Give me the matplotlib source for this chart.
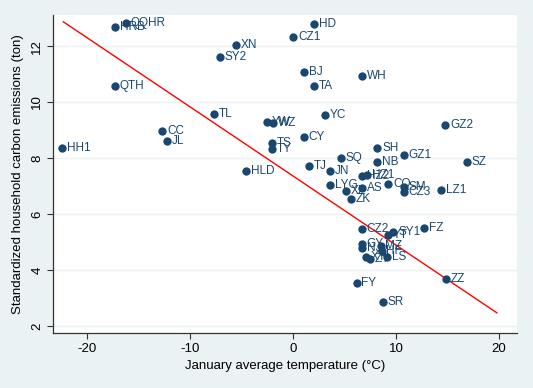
import matplotlib
matplotlib.use("Agg")
import matplotlib.pyplot as plt
import numpy as np

plt.rcParams['font.family'] = ['Liberation Sans', 'DejaVu Sans']
plt.rcParams['axes.unicode_minus'] = False

labels = ["HRB", "QQHR", "XN", "SY2", "QTH", "TL", "HD", "CZ1", "BJ", "WH", "TA",
          "YC", "GZ2", "HH1", "CC", "JL", "YW", "WZ", "TS", "TY", "HLD", "CY", "SH",
          "GZ1", "SZ", "SQ", "NB", "TJ", "JN", "HZ2", "HZ1", "LYG", "AS", "XZ", "ZK",
          "CQ", "SM", "CZ3", "LZ1", "CZ2", "SY1", "YT", "FZ", "GY", "NJ", "MZ", "HF",
          "LS", "XY", "ZY", "FY", "SR", "ZZ"]
temp = [-17.3, -16.2, -5.56, -7.09, -17.3, -7.64, 2.07, 0.03, 1.07, 6.67, 2.07,
        3.1, 14.8, -22.4, -12.7, -12.2, -2.55, -1.97, -2.07, -2.07, -4.56, 1.07, 8.19,
        10.78, 16.86, 4.63, 8.19, 1.58, 3.6, 6.67, 7.21, 3.6, 6.67, 5.15, 5.63,
        9.25, 10.78, 10.78, 14.37, 6.67, 9.74, 9.25, 12.75, 6.67, 6.67, 8.5, 8.6,
        9.1, 7.1, 7.45, 6.18, 8.71, 14.83]
emis = [12.68, 12.82, 12.04, 11.6, 10.57, 9.56, 12.79, 12.31, 11.08, 10.93, 10.57,
        9.54, 9.18, 8.35, 8.96, 8.62, 9.28, 9.24, 8.52, 8.31, 7.55, 8.76, 8.35,
        8.11, 7.85, 7.99, 7.85, 7.73, 7.55, 7.37, 7.39, 7.04, 6.92, 6.83, 6.52,
        7.06, 6.95, 6.8, 6.86, 5.45, 5.37, 5.25, 5.49, 4.92, 4.78, 4.86, 4.68,
        4.48, 4.46, 4.39, 3.55, 2.87, 3.67]

# fitted line (intercept, slope, x-range)
fit_a, fit_b = 7.36, -0.247
fit_range = [-22.3, 19.8]

xticks = [-20, -10, 0, 10, 20]
yticks = [2, 4, 6, 8, 10, 12]

navy = "#1A476F"
bg = "#EAF2F3"

fig = plt.figure(figsize=(5.33, 3.88), dpi=100)
fig.patch.set_facecolor(bg)
ax = fig.add_axes([53/533, 1-333/388, (517-53)/533, (333-15)/388])
ax.set_facecolor("white")

ax.set_xlim(-23.3, 21.75)
ax.set_ylim(1.75, 13.11)

for y in yticks:
    ax.axhline(y, color=bg, lw=1.0, zorder=0)

ax.scatter(temp, emis, s=36, color=navy, zorder=3, linewidths=0)
for lab, x, y in zip(labels, temp, emis):
    ax.annotate(lab, (x, y), xytext=(3.5, 0), textcoords="offset points",
                va="center", ha="left", fontsize=8.5, color=navy, zorder=4)

fx = np.array(fit_range)
ax.plot(fx, fit_a + fit_b * fx, color="red", lw=1.0, zorder=2)

ax.set_xticks(xticks)
ax.set_yticks(yticks)
ax.set_yticklabels([str(v) for v in yticks], rotation=90, va="center")
ax.tick_params(axis="both", direction="out", length=4, width=0.8, colors="#333333",
               labelsize=9.5, labelcolor="black")
ax.tick_params(axis="y", pad=3)
for s in ["top", "right"]:
    ax.spines[s].set_visible(False)
for s in ["left", "bottom"]:
    ax.spines[s].set_color("#333333")
    ax.spines[s].set_linewidth(0.9)

ax.set_xlabel("January average temperature (°C)", fontsize=9.5, labelpad=3)
ax.set_ylabel("Standardized household carbon emissions (ton)", fontsize=9.5, labelpad=5)

fig.savefig("out.png", dpi=100, facecolor=bg)
